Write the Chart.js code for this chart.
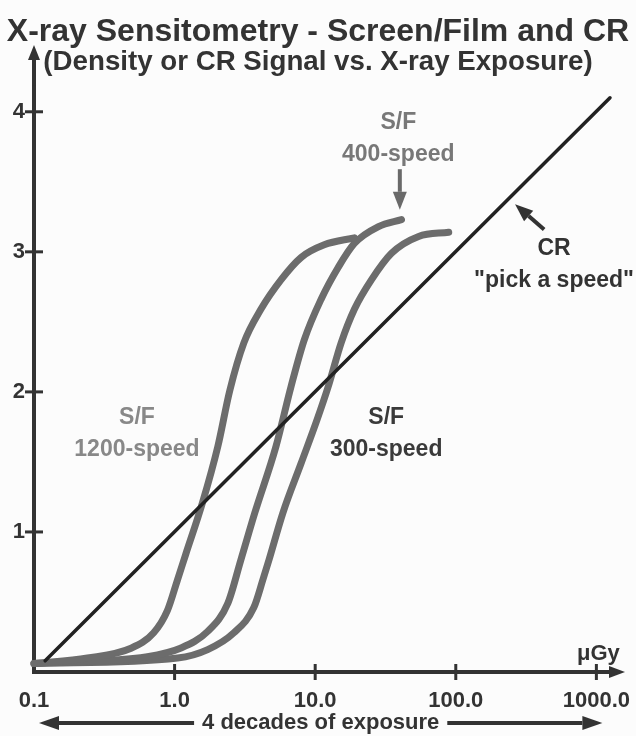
<!DOCTYPE html>
<html>
<head>
<meta charset="utf-8">
<script src="https://cdn.jsdelivr.net/npm/chart.js@4"></script>
<style>
  html, body { margin: 0; padding: 0; background: #fcfcfc; }
</style>
</head>
<body>
<canvas id="chart" width="636" height="736"></canvas>
<script>
// tick values
const xTickValues = [0.1, 1, 10, 100, 1000];
const yTickValues = [1, 2, 3, 4];

// S/F 1200-speed (exposure in uGy, density)
const sf1200X = [0.1, 0.24, 0.49, 0.71, 0.89, 1.05, 1.2, 1.58, 2.03, 2.47, 3.11, 4.11, 5.71, 7.94, 11.6, 19.0];
const sf1200Y = [0.06, 0.10, 0.17, 0.28, 0.44, 0.66, 0.84, 1.21, 1.61, 2.01, 2.35, 2.59, 2.80, 2.96, 3.05, 3.10];

// S/F 400-speed
const sf400X = [0.1, 0.64, 1.10, 1.72, 2.39, 2.96, 3.73, 5.26, 6.74, 8.35, 11.0, 14.6, 19.0, 28.2, 41.1];
const sf400Y = [0.06, 0.11, 0.17, 0.29, 0.49, 0.80, 1.14, 1.61, 2.04, 2.37, 2.66, 2.89, 3.06, 3.18, 3.23];

// S/F 300-speed
const sf300X = [0.1, 1.05, 1.72, 2.64, 3.66, 4.25, 4.69, 5.91, 7.94, 10.3, 12.4, 15.3, 19.0, 25.1, 34.9, 54.4, 89.1];
const sf300Y = [0.06, 0.10, 0.16, 0.28, 0.46, 0.66, 0.80, 1.14, 1.49, 1.80, 2.04, 2.35, 2.59, 2.80, 2.99, 3.11, 3.14];

// CR, straight on log exposure
const crX = [0.12, 1250];
const crY = [0.08, 4.10];

const FONT = '"Liberation Sans", Arial, Helvetica, sans-serif';
const INK = '#333333';
const CURVE = '#6c6c6c';

// annotation text, placed in data coordinates
const notes = [
  { lines: ['S/F', '400-speed'], x: 39, y: 3.81, color: '#787878' },
  { lines: ['S/F', '1200-speed'], x: 0.54, y: 1.70, color: '#888888' },
  { lines: ['S/F', '300-speed'], x: 32, y: 1.70, color: '#3a3a3a' },
  { lines: ['CR', '"pick a speed"'], x: 500, y: 2.91, color: INK }
];
const pointers = [
  { from: [40, 3.59], to: [40, 3.30], color: '#6a6a6a' },
  { from: [425, 3.16], to: [264, 3.34], color: INK }
];

function pts(xs, ys) {
  return xs.map((x, i) => ({ x: x, y: ys[i] }));
}

function line(ctx, x1, y1, x2, y2) {
  ctx.beginPath();
  ctx.moveTo(x1, y1);
  ctx.lineTo(x2, y2);
  ctx.stroke();
}

function arrow(ctx, x1, y1, x2, y2, head, half, w) {
  const ang = Math.atan2(y2 - y1, x2 - x1);
  const bx = x2 - head * Math.cos(ang), by = y2 - head * Math.sin(ang);
  ctx.lineWidth = w;
  line(ctx, x1, y1, bx, by);
  ctx.beginPath();
  ctx.moveTo(x2, y2);
  ctx.lineTo(bx + half * Math.sin(ang), by - half * Math.cos(ang));
  ctx.lineTo(bx - half * Math.sin(ang), by + half * Math.cos(ang));
  ctx.closePath();
  ctx.fill();
}

const decor = {
  id: 'decor',
  afterDraw(chart) {
    const { ctx, chartArea: a, scales: { x, y } } = chart;
    ctx.save();
    ctx.strokeStyle = INK;
    ctx.fillStyle = INK;
    ctx.lineCap = 'butt';

    // tick marks crossing the axes
    ctx.lineWidth = 3;
    yTickValues.forEach(v => {
      const py = y.getPixelForValue(v);
      line(ctx, a.left - 9, py, a.left + 9, py);
    });
    xTickValues.slice(1).forEach(v => {
      const px = x.getPixelForValue(v);
      line(ctx, px, a.bottom - 8, px, a.bottom + 8);
    });

    // axis arrows
    arrow(ctx, a.left, a.top + 2, a.left, 45, 15, 6, 4);
    arrow(ctx, a.right - 2, a.bottom, 625, a.bottom, 16, 6, 4);

    // unit
    ctx.font = 'bold 22px ' + FONT;
    ctx.textAlign = 'center';
    ctx.textBaseline = 'middle';
    ctx.fillText('\u03bcGy', x.getPixelForValue(1000) + 2, a.bottom - 18);

    // 4 decades double arrow
    const l = x.getPixelForValue(0.1) + 5, r = x.getPixelForValue(1000) + 6;
    const cx = (l + r) / 2, by = 723;
    const txt = '4 decades of exposure';
    const tw = ctx.measureText(txt).width;
    ctx.fillText(txt, cx, by);
    arrow(ctx, cx - tw / 2 - 8, by, l, by, 20, 7, 4);
    arrow(ctx, cx + tw / 2 + 8, by, r, by, 20, 7, 4);

    // notes
    ctx.font = 'bold 23px ' + FONT;
    notes.forEach(n => {
      const px = x.getPixelForValue(n.x), py = y.getPixelForValue(n.y);
      ctx.fillStyle = n.color;
      ctx.fillText(n.lines[0], px, py - 16);
      ctx.fillText(n.lines[1], px, py + 16);
    });
    pointers.forEach(p => {
      ctx.strokeStyle = p.color;
      ctx.fillStyle = p.color;
      arrow(ctx,
        x.getPixelForValue(p.from[0]), y.getPixelForValue(p.from[1]),
        x.getPixelForValue(p.to[0]), y.getPixelForValue(p.to[1]), 18, 7, 4);
    });
    ctx.restore();
  }
};

Chart.defaults.font.family = FONT;
Chart.defaults.color = INK;

const curveStyle = {
  showLine: true,
  borderColor: CURVE,
  borderWidth: 7,
  borderCapStyle: 'round',
  borderJoinStyle: 'round',
  pointRadius: 0,
  cubicInterpolationMode: 'monotone',
  clip: false
};

new Chart(document.getElementById('chart'), {
  type: 'scatter',
  data: {
    datasets: [
      { label: 'CR', data: pts(crX, crY), showLine: true, borderColor: '#222222', borderWidth: 3.5,
        borderCapStyle: 'round', pointRadius: 0, clip: false },
      Object.assign({ label: 'S/F 1200-speed', data: pts(sf1200X, sf1200Y) }, curveStyle),
      Object.assign({ label: 'S/F 400-speed', data: pts(sf400X, sf400Y) }, curveStyle),
      Object.assign({ label: 'S/F 300-speed', data: pts(sf300X, sf300Y) }, curveStyle)
    ]
  },
  options: {
    responsive: false,
    animation: false,
    layout: { padding: 0 },
    plugins: {
      legend: { display: false },
      tooltip: { enabled: false },
      title: {
        display: true,
        text: 'X-ray Sensitometry - Screen/Film and CR',
        color: INK,
        font: { size: 32, weight: 'bold', lineHeight: 1.12 },
        padding: { top: 14, bottom: 0 }
      },
      subtitle: {
        display: true,
        text: '(Density or CR Signal vs. X-ray Exposure)',
        color: INK,
        font: { size: 27.7, weight: 'bold', lineHeight: 0.9 },
        padding: { top: 0, bottom: 9 }
      }
    },
    scales: {
      x: {
        type: 'logarithmic',
        min: 0.1,
        max: 1250,
        afterBuildTicks: s => { s.ticks = xTickValues.map(v => ({ value: v })); },
        afterFit: s => { s.height = 64; s.paddingLeft = 0; s.paddingRight = 0; },
        grid: { display: false, drawTicks: false },
        border: { display: true, color: INK, width: 4 },
        ticks: {
          padding: 16,
          maxRotation: 0,
          autoSkip: false,
          color: INK,
          font: { size: 22, weight: 'bold' },
          callback: v => Number(v).toFixed(1)
        }
      },
      y: {
        min: 0,
        max: 4.2,
        afterBuildTicks: s => { s.ticks = yTickValues.map(v => ({ value: v })); },
        afterFit: s => { s.width = 34; },
        grid: { display: false, drawTicks: false },
        border: { display: true, color: INK, width: 4 },
        ticks: {
          padding: 9,
          color: INK,
          font: { size: 22, weight: 'bold' },
          callback: v => String(v)
        }
      },
      // empty strip on the right for the axis arrow and last tick label
      gap: {
        position: 'right',
        display: true,
        afterFit: s => { s.width = 26; },
        grid: { display: false, drawTicks: false },
        border: { display: false },
        ticks: { display: false }
      }
    }
  },
  plugins: [decor]
});
</script>
</body>
</html>
